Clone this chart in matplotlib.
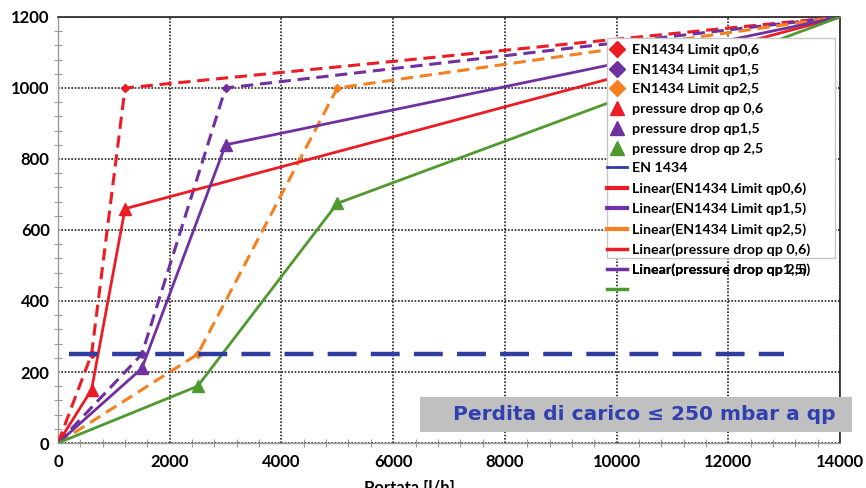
import matplotlib.pyplot as plt
from matplotlib.lines import Line2D
from matplotlib.patches import Rectangle

# EN1434 limits (dashed) and measured pressure drop (solid): portata [l/h] vs mbar
lim06_x = [0, 600, 1200, 14000]
lim06_y = [0, 250, 1000, 1200]
lim15_x = [0, 1500, 3000, 14000]
lim15_y = [0, 250, 1000, 1200]
lim25_x = [0, 2500, 5000, 14000]
lim25_y = [0, 250, 1000, 1200]

dp06_x = [0, 600, 1200, 14000]
dp06_y = [0, 150, 660, 1200]
dp15_x = [0, 1500, 3000, 14000]
dp15_y = [0, 210, 840, 1200]
dp25_x = [0, 2500, 5000, 14000]
dp25_y = [0, 160, 675, 1200]

en1434_x = [200, 13000]
en1434_y = [250, 250]

legend_labels = ["EN1434 Limit qp0,6", "EN1434 Limit qp1,5", "EN1434 Limit qp2,5",
                 "pressure drop qp 0,6", "pressure drop qp1,5", "pressure drop qp 2,5",
                 "EN 1434",
                 "Linear(EN1434 Limit qp0,6)", "Linear(EN1434 Limit qp1,5)",
                 "Linear(EN1434 Limit qp2,5)", "Linear(pressure drop qp 0,6)",
                 "Linear(pressure drop qp1,5)", ""]
overlap_label = "Linear(pressure drop qp 2,5)"

RED = "#ec1c24"
PURPLE = "#7030a0"
ORANGE = "#f5801f"
GREEN = "#4f9a2f"
BLUE = "#2f3d9e"

plt.rcParams["font.family"] = ["Lato", "DejaVu Sans"]
plt.rcParams["font.weight"] = "bold"

fig = plt.figure(figsize=(8.66, 4.88), dpi=100)
ax = fig.add_axes([0.067, 0.0922, 0.903, 0.873])

dash = (4, 2.2)
ax.plot(lim06_x, lim06_y, color=RED, lw=2.2, dashes=dash, marker="D", ms=4, markevery=[1, 2], zorder=3)
ax.plot(lim15_x, lim15_y, color=PURPLE, lw=2.2, dashes=dash, marker="D", ms=4, markevery=[1, 2], zorder=3)
ax.plot(lim25_x, lim25_y, color=ORANGE, lw=2.2, dashes=dash, marker="D", ms=4, markevery=[1, 2], zorder=3)

ax.plot(dp06_x, dp06_y, color=RED, lw=2, marker="^", ms=8, markevery=[1, 2], zorder=3)
ax.plot(dp15_x, dp15_y, color=PURPLE, lw=2, marker="^", ms=8, markevery=[1, 2], zorder=3)
ax.plot(dp25_x, dp25_y, color=GREEN, lw=2, marker="^", ms=8, markevery=[1, 2], zorder=3)

ax.plot(en1434_x, en1434_y, color=BLUE, lw=3.2, dashes=(6.5, 3.2), zorder=3)

ax.set_xlim(0, 14000)
ax.set_ylim(0, 1200)
ax.set_xticks(range(0, 14001, 2000))
ax.set_yticks(range(0, 1201, 200))
ax.set_xticks(range(0, 14001, 400), minor=True)
ax.set_yticks(range(0, 1201, 40), minor=True)
ax.tick_params(which="major", length=0, labelsize=12)
ax.tick_params(axis="x", which="major", pad=8)
ax.tick_params(axis="y", which="major", pad=6)
ax.tick_params(which="minor", direction="inout", length=6, color="#9a9a9a", width=0.8)
ax.grid(True, which="major", color="#222222", linestyle=(0, (1, 1)), lw=1.2)

for s in ["left", "bottom"]:
    ax.spines[s].set_color("#9a9a9a")
    ax.spines[s].set_linewidth(1)
for s in ["top", "right"]:
    ax.spines[s].set_color("#222222")
    ax.spines[s].set_linestyle((0, (1, 1)))
    ax.spines[s].set_linewidth(1.2)

ax.set_xlabel("Portata [l/h]", fontsize=12, fontweight="bold")
ax.xaxis.set_label_coords(0.45, -0.086)

# note box
ax.add_patch(Rectangle((0.463, 0.026), 0.552, 0.082, transform=ax.transAxes,
                       facecolor="#c0c0c0", edgecolor="none", clip_on=False, zorder=4))
ax.text(0.75, 0.067, "Perdita di carico \u2264 250 mbar a qp", transform=ax.transAxes,
        ha="center", va="center", fontsize=14.5, fontweight="heavy", color="#3040b0",
        family="DejaVu Sans", zorder=5)

# legend frame (entries spill over it, as in the original)
ax.add_patch(Rectangle((0.702, 0.434), 0.2915, 0.517, transform=ax.transAxes,
                       facecolor="white", edgecolor="#c8c8c8", lw=1, zorder=4))

handles = [
    Line2D([], [], color=RED, marker="D", ls="none", ms=8),
    Line2D([], [], color=PURPLE, marker="D", ls="none", ms=8),
    Line2D([], [], color=ORANGE, marker="D", ls="none", ms=8),
    Line2D([], [], color=RED, marker="^", ls="none", ms=10),
    Line2D([], [], color=PURPLE, marker="^", ls="none", ms=10),
    Line2D([], [], color=GREEN, marker="^", ls="none", ms=10),
    Line2D([], [], color=BLUE, lw=2),
    Line2D([], [], color=RED, lw=3),
    Line2D([], [], color=PURPLE, lw=3),
    Line2D([], [], color=ORANGE, lw=3),
    Line2D([], [], color=RED, lw=2.5),
    Line2D([], [], color=PURPLE, lw=2.5),
    Line2D([], [], color=GREEN, lw=2.5),
]
leg = ax.legend(handles, legend_labels, loc="upper left", bbox_to_anchor=(0.695, 0.95),
                frameon=False, fontsize=10.3, handlelength=1.4, handletextpad=0.3,
                labelspacing=0.54, borderaxespad=0)
leg.set_zorder(6)
for t in leg.get_texts():
    t.set_fontweight("bold")

fig.canvas.draw()
bb = leg.get_texts()[11].get_window_extent()
W, H = fig.canvas.get_width_height()
fig.text(bb.x0 / W, bb.y0 / H, overlap_label, ha="left", va="bottom",
         fontsize=10.3, fontweight="bold", zorder=7)

fig.savefig("out.png", dpi=100)
